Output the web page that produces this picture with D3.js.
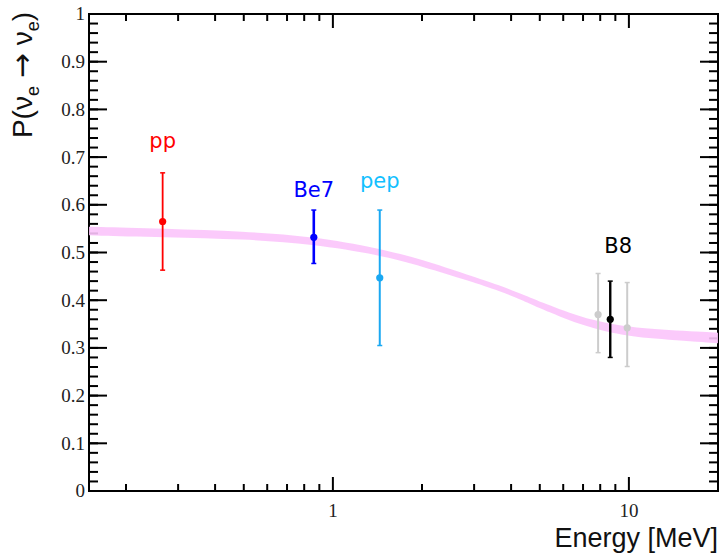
<!DOCTYPE html>
<html>
<head>
<meta charset="utf-8">
<script src="https://cdn.jsdelivr.net/npm/d3@7"></script>
<style>
  body { margin: 0; background: #fff; }
  svg { display: block; }
  .serif { font-family: "Liberation Serif", "Times New Roman", Times, "DejaVu Serif", serif; }
</style>
</head>
<body>
<div id="chart"></div>
<script>
// survival probability band
var bandE  = [0.15, 0.27, 0.5, 0.85, 1.44, 2.0, 2.9, 3.66, 4.3, 5.0, 6.8, 8.7, 11.8, 20];
var bandP  = [0.545, 0.541, 0.536, 0.526, 0.502, 0.478, 0.446, 0.425, 0.408, 0.390, 0.357, 0.340, 0.329, 0.321];
var bandHW = [0.009, 0.009, 0.008, 0.008, 0.007, 0.007, 0.006, 0.006, 0.006, 0.007, 0.008, 0.009, 0.010, 0.011];

// measured points
var ptName  = ["pp", "Be7", "pep", "B8a", "B8", "B8b"];
var ptE     = [0.266, 0.862, 1.44, 7.87, 8.65, 9.87];
var ptP     = [0.565, 0.532, 0.447, 0.370, 0.360, 0.342];
var ptErrUp = [0.102, 0.057, 0.142, 0.086, 0.080, 0.095];
var ptErrDn = [0.102, 0.055, 0.142, 0.080, 0.080, 0.081];
var ptColor = ["#ff0000", "#0000ff", "#1aa8f2", "#cccccc", "#000000", "#cccccc"];
var ptWidth = [1.8, 2.6, 2.0, 2.0, 2.4, 2.0];

// labels
var labText  = ["pp", "Be7", "pep", "B8"];
var labE     = [0.266, 0.862, 1.44, 9.2];
var labP     = [0.719, 0.617, 0.635, 0.499];
var labColor = ["#ff0000", "#0000ff", "#12c0ff", "#000000"];

var yTicks = d3.range(0, 1.01, 0.1);
var xTickLabels = [1, 10];

var W = 720, H = 556;
var margin = { top: 14, right: 2, bottom: 65, left: 89 };
var width = W - margin.left - margin.right,
    height = H - margin.top - margin.bottom;

var svg = d3.select("#chart").append("svg")
    .attr("width", W)
    .attr("height", H);

var g = svg.append("g")
    .attr("transform", "translate(" + margin.left + "," + margin.top + ")");

var x = d3.scaleLog().domain([0.15, 20]).range([0, width]);
var y = d3.scaleLinear().domain([0, 1]).range([height, 0]);

// tick positions
var xMajor = [1, 10];
var xMinor = [];
[0.1, 1, 10].forEach(function(dec) {
    for (var k = 2; k <= 9; k++) {
        var v = dec * k;
        if (v > 0.15 && v <= 20) xMinor.push(v);
    }
});
xMinor.push(20);
var yMinor = d3.range(0, 1.001, 0.02);

// bottom + top ticks
function xTicksAt(y0, dir) {
    g.selectAll(null).data(xMinor).enter().append("line")
        .attr("x1", function(d) { return x(d); }).attr("x2", function(d) { return x(d); })
        .attr("y1", y0).attr("y2", y0 + dir * 7)
        .attr("stroke", "#000").attr("stroke-width", 2);
    g.selectAll(null).data(xMajor).enter().append("line")
        .attr("x1", function(d) { return x(d); }).attr("x2", function(d) { return x(d); })
        .attr("y1", y0).attr("y2", y0 + dir * 14)
        .attr("stroke", "#000").attr("stroke-width", 2);
}
xTicksAt(height, -1);
xTicksAt(0, 1);

// left + right ticks
function yTicksAt(x0, dir) {
    g.selectAll(null).data(yMinor).enter().append("line")
        .attr("y1", function(d) { return y(d); }).attr("y2", function(d) { return y(d); })
        .attr("x1", x0).attr("x2", x0 + dir * 9)
        .attr("stroke", "#000").attr("stroke-width", 2);
    g.selectAll(null).data(yTicks).enter().append("line")
        .attr("y1", function(d) { return y(d); }).attr("y2", function(d) { return y(d); })
        .attr("x1", x0).attr("x2", x0 + dir * 18)
        .attr("stroke", "#000").attr("stroke-width", 2);
}
yTicksAt(0, 1);
yTicksAt(width, -1);

// frame
g.append("rect")
    .attr("width", width).attr("height", height)
    .attr("fill", "none").attr("stroke", "#000").attr("stroke-width", 2);

// tick labels
g.selectAll(".ylab").data(yTicks).enter().append("text")
    .attr("class", "ylab serif")
    .attr("x", -4)
    .attr("y", function(d) { return y(d); })
    .attr("dy", "0.34em")
    .attr("text-anchor", "end")
    .style("font-size", "19px")
    .style("fill", "#222")
    .text(function(d) { return d === 0 ? "0" : d === 1 ? "1" : d3.format(".1f")(d); });

g.selectAll(".xlab").data(xTickLabels).enter().append("text")
    .attr("class", "xlab serif")
    .attr("x", function(d) { return x(d); })
    .attr("y", height + 26)
    .attr("text-anchor", "middle")
    .style("font-size", "19px")
    .style("fill", "#222")
    .text(function(d) { return d; });

// band
var bandData = bandE.map(function(e, i) { return { e: e, p: bandP[i], w: bandHW[i] }; });
var area = d3.area()
    .x(function(d) { return x(d.e); })
    .y0(function(d) { return y(d.p - d.w); })
    .y1(function(d) { return y(d.p + d.w); })
    .curve(d3.curveBasis);
g.append("path")
    .datum(bandData)
    .attr("d", area)
    .attr("fill", "#fbc4fb")
    .attr("fill-opacity", 0.9);

// error bars
var pts = ptName.map(function(n, i) {
    return { n: n, e: ptE[i], p: ptP[i], up: ptErrUp[i], dn: ptErrDn[i], c: ptColor[i], w: ptWidth[i] };
});
var pg = g.selectAll(".pt").data(pts).enter().append("g").attr("class", "pt");
pg.append("line")
    .attr("x1", function(d) { return x(d.e); }).attr("x2", function(d) { return x(d.e); })
    .attr("y1", function(d) { return y(d.p + d.up); }).attr("y2", function(d) { return y(d.p - d.dn); })
    .attr("stroke", function(d) { return d.c; }).attr("stroke-width", function(d) { return d.w; });
["up", "dn"].forEach(function(side) {
    pg.append("line")
        .attr("x1", function(d) { return x(d.e) - 2.5; }).attr("x2", function(d) { return x(d.e) + 2.5; })
        .attr("y1", function(d) { return y(side === "up" ? d.p + d.up : d.p - d.dn); })
        .attr("y2", function(d) { return y(side === "up" ? d.p + d.up : d.p - d.dn); })
        .attr("stroke", function(d) { return d.c; }).attr("stroke-width", 1.5);
});
pg.append("circle")
    .attr("cx", function(d) { return x(d.e); })
    .attr("cy", function(d) { return y(d.p); })
    .attr("r", 3.6)
    .attr("fill", function(d) { return d.c; });

// point labels
labText.forEach(function(t, i) {
    g.append("text")
        .attr("x", x(labE[i]))
        .attr("y", y(labP[i]))
        .attr("text-anchor", "middle")
        .style("font-family", "'DejaVu Sans', sans-serif")
        .style("font-size", "21px")
        .style("fill", labColor[i])
        .text(t);
});

// axis titles
svg.append("text")
    .attr("x", 718)
    .attr("y", 547)
    .attr("text-anchor", "end")
    .style("font-family", "'Liberation Sans', Arial, sans-serif")
    .style("font-size", "27px")
    .style("fill", "#111")
    .text("Energy [MeV]");

var yt = svg.append("text")
    .attr("transform", "translate(32,12) rotate(-90)")
    .attr("text-anchor", "end")
    .style("font-family", "'Liberation Sans', Arial, sans-serif")
    .style("font-size", "28px")
    .style("fill", "#111");
yt.append("tspan").text("P(\u03bd");
yt.append("tspan").attr("dy", 7).style("font-size", "18px").text("e");
yt.append("tspan").attr("dy", -7).text(" ");
yt.append("tspan").style("font-family", "'DejaVu Sans', sans-serif").style("font-size", "30px").text("\u2192");
yt.append("tspan").text(" \u03bd");
yt.append("tspan").attr("dy", 7).style("font-size", "18px").text("e");
yt.append("tspan").attr("dy", -7).text(")");
</script>
</body>
</html>
